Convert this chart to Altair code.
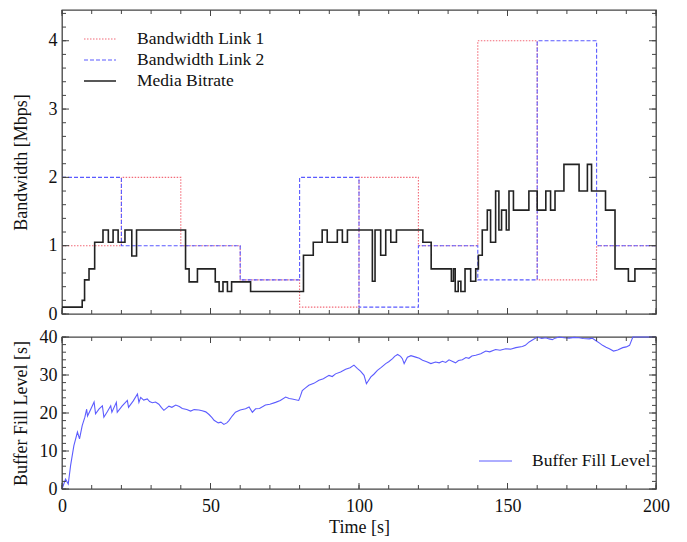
import altair as alt
import pandas as pd

# ---------------- data ----------------
link1_t = [0, 20, 40, 60, 80, 100, 120, 140, 160, 180, 200]
link1_v = [1, 2, 1, 0.5, 0.1, 2, 1, 4, 0.5, 1, 1]
link2_t = [0, 20, 60, 80, 100, 120, 140, 160, 180, 200]
link2_v = [2, 1, 0.5, 2, 0.1, 1, 0.5, 4, 1, 1]

bitrate_t = [0, 6.8, 7.6, 9.1, 11, 13.8, 15.6, 17.2, 18.9, 21.2, 23.5, 25.1, 41.6, 42.8,
             45.6, 51.6, 52.9, 54.2, 55.7, 57.1, 63.5, 81.3, 84.6, 87.6, 89.3, 92.7, 94.4,
             96.1, 104.5, 105.4, 107.3, 109, 110.7, 112.6, 121.5, 124.3, 131.1, 131.8,
             132.4, 133.4, 134.3, 135.7, 137.6, 139.3, 140.2, 141.5, 143.2, 144.3, 146,
             147.1, 148, 149.6, 150.5, 152, 157.2, 160, 162.9, 164.5, 166, 169, 174.1,
             176.9, 178.3, 183, 186.2, 190.7, 192.9, 200]
bitrate_v = [0.1, 0.2, 0.5, 0.66, 1.05, 1.23, 1.05, 1.23, 1.05, 1.23, 0.85, 1.23, 0.66, 0.47,
             0.66, 0.47, 0.33, 0.47, 0.33, 0.47, 0.33, 0.86, 1.05, 1.23, 1.05, 1.23, 1.05,
             1.23, 0.48, 1.23, 0.86, 1.23, 1.05, 1.23, 1.05, 0.66, 0.48, 0.66,
             0.33, 0.48, 0.33, 0.66, 0.48, 0.66, 0.86, 1.23, 1.52, 1.05, 1.80,
             1.23, 1.52, 1.23, 1.80, 1.52, 1.80, 1.52, 1.80, 1.52, 1.80, 2.19, 1.80,
             2.19, 1.80, 1.52, 0.66, 0.48, 0.66, 0.66]

buffer_t = [0, 1.2, 2.1, 2.9, 4.0, 5.2, 5.9, 6.8, 7.7, 8.3, 8.6, 9.8, 10.8, 11.3, 12.5,
            13.6, 14.1, 15.3, 16.4, 16.8, 18.3, 18.6, 20.2, 22, 22.4, 24, 25.4, 25.9, 26.5,
            27.5, 28.7, 29.5, 30.4, 31.5, 32.6, 33.5, 34.3, 35.2, 36, 37, 38.3, 39.5, 40.5,
            42, 43.3, 44.5, 46.1, 47.2, 48.4, 49.5, 50.5, 51.2, 52.6, 53.5, 54.5, 55.5,
            56.2, 57.3, 58.4, 60, 61.8, 63, 64.1, 65.2, 66.5, 68.5, 70, 71.9, 73.5, 75.3,
            76.5, 77.5, 79.7, 80.3, 80.9, 82, 83.1, 84.8, 86.5, 88, 89.9, 91, 92.1, 93.8,
            95.5, 97, 98.3, 99.5, 100.5, 101.7, 102.5, 104, 105, 106.2, 107.5, 109, 110,
            111.3, 112, 113, 114, 114.6, 115.2, 116.3, 117.5, 119.1, 120.3, 121.4, 122.8,
            124.2, 125.8, 127, 128.1, 129.2, 130.3, 132.5, 133.5, 134.8, 136, 137, 138,
            139.3, 141, 142.7, 144, 146, 147.5, 149.4, 151, 152.8, 155, 156, 157.3, 158.8,
            160.1, 161.5, 162.9, 164, 165.1, 166, 167.4, 169, 170.8, 172.5, 174.1, 175.5,
            177.5, 178.5, 179.8, 181, 182, 183.2, 184.3, 185.7, 187.1, 188.8, 190, 191.1,
            192.2, 193.3, 200]
buffer_v = [0, 2.6, 1.3, 6.2, 11.4, 15, 13.2, 16.7, 18.9, 21, 19.2, 21.2, 22.9, 19.8, 21.1,
            21.9, 18.9, 20.4, 21.9, 20.2, 22.8, 20.2, 21.8, 23.3, 21.5, 23.2, 25, 22.8, 24.1,
            23.4, 23.7, 23.0, 22.7, 22.9, 22.3, 21.4, 20.7, 21.3, 21.8, 21.5, 22.1, 21.7, 21.2,
            20.9, 20.5, 20.9, 20.8, 20.6, 20.3, 19.6, 18.8, 18.1, 17.4, 17.6, 17.0, 17.4,
            18.0, 19.2, 20.2, 20.8, 21.1, 21.6, 20.2, 21.1, 21.2, 22.1, 22.3, 22.8, 23.3, 24.2,
            23.8, 23.7, 23.3, 24.5, 25.9, 26.6, 27.3, 27.8, 28.6, 29.0, 29.9, 29.6, 30.3, 30.8,
            31.5, 31.9, 32.6, 31.7, 31.0, 29.9, 27.7, 29.5, 30.2, 31.2, 32.0, 33, 33.5,
            34.3, 34.9, 35.4, 34.9, 34.3, 33, 34.7, 35.1, 34.7, 34.4, 33.9, 33.5,
            33, 33.4, 33.2, 33.6, 33.3, 34, 33.2, 33.8, 34, 34.6, 34.4, 35.0,
            35.2, 35.6, 36.3, 36.1, 36.7, 36.5, 36.9, 36.8, 37.2, 37.5, 37.8, 38.7, 39.4,
            40, 39.6, 39.8, 39.5, 39.3, 39.7, 40, 39.8, 39.7, 39.9, 39.8, 39.6,
            39.5, 39.7, 39, 38.4, 37.8, 37.3, 36.9, 36.3, 36.6, 37.2, 37.4, 37.8,
            40, 40, 40]

x_major = [0, 50, 100, 150, 200]
x_minor = list(range(0, 201, 10))
bw_major = [0, 1, 2, 3, 4]
bw_minor = [round(0.2 * i, 1) for i in range(0, 23)]
buf_major = [0, 10, 20, 30, 40]
buf_minor = list(range(0, 41, 2))

legend_top = ["Bandwidth Link 1", "Bandwidth Link 2", "Media Bitrate"]
legend_bottom = ["Buffer Fill Level"]

# ---------------- style ----------------
FONT = "Liberation Serif"
W = 594
H1 = 304
H2 = 152
C1 = "#f26a78"
C2 = "#5a5aff"
CB = "#222222"
CBUF = "#5c5cff"
TICK = "#444444"

xs = alt.Scale(domain=[0, 200], nice=False, zero=False)
y1s = alt.Scale(domain=[0, 4.45], nice=False, zero=False)
y2s = alt.Scale(domain=[0, 40], nice=False, zero=False)

df_l1 = pd.DataFrame({"t": link1_t, "v": link1_v})
df_l2 = pd.DataFrame({"t": link2_t, "v": link2_v})
df_br = pd.DataFrame({"t": bitrate_t, "v": bitrate_v})
df_buf = pd.DataFrame({"t": buffer_t, "v": buffer_v})

y_axis_top = alt.Axis(values=bw_major, title="Bandwidth [Mbps]", ticks=False, domain=False,
                      grid=False, labelPadding=5, titlePadding=7, minExtent=25, maxExtent=25,
                      labelFlush=False)
y_axis_bot = alt.Axis(values=buf_major, title="Buffer Fill Level [s]", ticks=False, domain=False,
                      grid=False, labelPadding=5, titlePadding=7, minExtent=25, maxExtent=25,
                      labelFlush=False)
x_axis_bot = alt.Axis(values=x_major, title="Time [s]", ticks=False, domain=False, grid=False,
                      labelPadding=8, titlePadding=3, labelFlush=False)


def xticks(values, length, H, xaxis):
    d = pd.DataFrame({"t": values})
    bot = alt.Chart(d).mark_rule(color=TICK, strokeWidth=1).encode(
        x=alt.X("t:Q", scale=xs, axis=xaxis), y=alt.value(H), y2=alt.value(H - length))
    top = alt.Chart(d).mark_rule(color=TICK, strokeWidth=1).encode(
        x=alt.X("t:Q", scale=xs, axis=xaxis), y=alt.value(0), y2=alt.value(length))
    return [bot, top]


def yticks(values, length, ys, yaxis):
    d = pd.DataFrame({"v": values})
    left = alt.Chart(d).mark_rule(color=TICK, strokeWidth=1).encode(
        y=alt.Y("v:Q", scale=ys, axis=yaxis), x=alt.value(0), x2=alt.value(length))
    right = alt.Chart(d).mark_rule(color=TICK, strokeWidth=1).encode(
        y=alt.Y("v:Q", scale=ys, axis=yaxis), x=alt.value(W), x2=alt.value(W - length))
    return [left, right]


# ---------------- top panel ----------------
l1 = alt.Chart(df_l1).mark_line(interpolate="step-after", color=C1, strokeDash=[1.5, 1.5],
                                strokeWidth=1.1).encode(
    x=alt.X("t:Q", scale=xs, axis=None),
    y=alt.Y("v:Q", scale=y1s, axis=y_axis_top))
l2 = alt.Chart(df_l2).mark_line(interpolate="step-after", color=C2, strokeDash=[4, 2],
                                strokeWidth=1.1).encode(
    x=alt.X("t:Q", scale=xs, axis=None),
    y=alt.Y("v:Q", scale=y1s, axis=y_axis_top))
br = alt.Chart(df_br).mark_line(interpolate="step-after", color=CB, strokeWidth=1.6).encode(
    x=alt.X("t:Q", scale=xs, axis=None),
    y=alt.Y("v:Q", scale=y1s, axis=y_axis_top))

leg_styles = [(C1, [1.5, 1.5], 1.1), (C2, [4, 2], 1.1), (CB, [1, 0], 1.6)]
leg_layers = []
for i, (name, (col, dash, sw)) in enumerate(zip(legend_top, leg_styles)):
    yy = 29 + i * 21
    d = pd.DataFrame({"label": [name]})
    leg_layers.append(alt.Chart(d).mark_rule(color=col, strokeDash=dash, strokeWidth=sw).encode(
        x=alt.value(22), x2=alt.value(54), y=alt.value(yy)))
    leg_layers.append(alt.Chart(d).mark_text(font=FONT, fontSize=17.5, color="#111", align="left",
                                             baseline="middle").encode(
        x=alt.value(75), y=alt.value(yy), text="label:N"))

top = alt.layer(
    l1, l2, br,
    *xticks(x_minor, 4, H1, None), *xticks(x_major, 6, H1, None),
    *yticks(bw_minor, 4, y1s, y_axis_top), *yticks(bw_major, 7, y1s, y_axis_top),
    *leg_layers,
).properties(width=W, height=H1)

# ---------------- bottom panel ----------------
buf = alt.Chart(df_buf).mark_line(color=CBUF, strokeWidth=1.1).encode(
    x=alt.X("t:Q", scale=xs, axis=x_axis_bot),
    y=alt.Y("v:Q", scale=y2s, axis=y_axis_bot))

d_lb = pd.DataFrame({"label": legend_bottom})
lb_line = alt.Chart(d_lb).mark_rule(color=CBUF, strokeWidth=1).encode(
    x=alt.value(417), x2=alt.value(450), y=alt.value(124))
lb_text = alt.Chart(d_lb).mark_text(font=FONT, fontSize=17.5, color="#111", align="left",
                                     baseline="middle").encode(
    x=alt.value(470), y=alt.value(124), text="label:N")

bottom = alt.layer(
    buf,
    *xticks(x_minor, 4, H2, x_axis_bot), *xticks(x_major, 6, H2, x_axis_bot),
    *yticks(buf_minor, 4, y2s, y_axis_bot), *yticks(buf_major, 7, y2s, y_axis_bot),
    lb_line, lb_text,
).properties(width=W, height=H2)

chart = alt.vconcat(top, bottom, spacing=23, bounds="flush").properties(
    padding={"left": 3, "top": 0, "right": 0, "bottom": 0}
).configure_view(
    stroke="#444444", strokeWidth=1.3
).configure_axis(
    labelFont=FONT, titleFont=FONT, labelFontSize=18, titleFontSize=18,
    titleFontWeight="normal", labelColor="#111", titleColor="#111"
)

chart.save("out.html", embed_options={"renderer": "svg", "actions": False})
